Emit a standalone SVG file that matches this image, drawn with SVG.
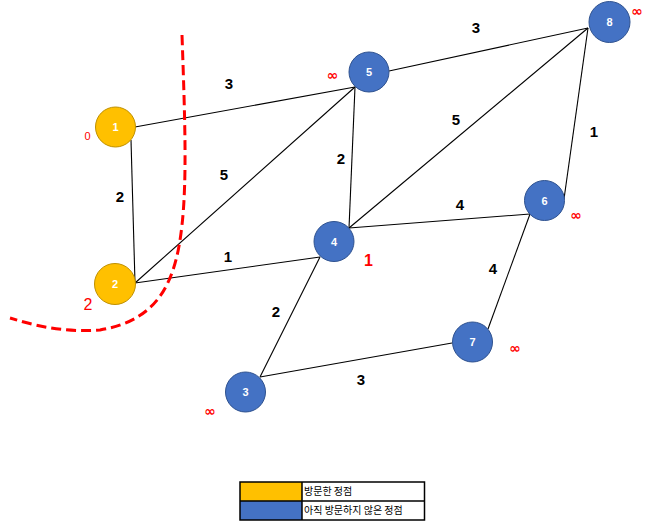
<svg xmlns="http://www.w3.org/2000/svg" width="654" height="531" viewBox="0 0 654 531">
<style>
.edge{stroke:#000;stroke-width:1.1;fill:none}
.v{fill:#FFC000;stroke:#BF9000;stroke-width:1}
.u{fill:#4472C4;stroke:#2F528F;stroke-width:1}
.nl{font-family:"Liberation Sans",Arial,sans-serif;font-weight:bold;font-size:11px;fill:#fff;text-anchor:middle}
.el{font-family:"Liberation Sans",Arial,sans-serif;font-weight:bold;font-size:15px;fill:#000;text-anchor:middle}
.rd{font-family:"Liberation Sans",Arial,sans-serif;fill:#FF0000;text-anchor:middle}
.inf{font-family:"DejaVu Sans",sans-serif;font-weight:bold;font-size:14px;fill:#FF0000;text-anchor:middle}
.lg{font-family:"Noto Sans CJK KR",sans-serif;font-size:10px;fill:#000}
</style>
<rect width="654" height="531" fill="#fff"/>
<g id="connectors">
<line class="edge" x1="135" y1="127" x2="355" y2="87"/>
<line class="edge" x1="131" y1="140" x2="135" y2="283"/>
<line class="edge" x1="135" y1="283" x2="355" y2="87"/>
<line class="edge" x1="135" y1="283" x2="320" y2="257"/>
<line class="edge" x1="349" y1="228" x2="355" y2="87"/>
<line class="edge" x1="349" y1="228" x2="588" y2="28"/>
<line class="edge" x1="349" y1="228" x2="530" y2="214"/>
<line class="edge" x1="389" y1="71" x2="588" y2="28"/>
<line class="edge" x1="564" y1="199" x2="588" y2="28"/>
<line class="edge" x1="320" y1="257" x2="260" y2="377"/>
<line class="edge" x1="260" y1="377" x2="452" y2="343"/>
<line class="edge" x1="488" y1="329" x2="530" y2="214"/>
</g>
<g id="edge-labels">
<text class="el" x="229" y="88.5">3</text>
<text class="el" x="120" y="201.5">2</text>
<text class="el" x="224" y="179.5">5</text>
<text class="el" x="228" y="261.5">1</text>
<text class="el" x="341" y="163.5">2</text>
<text class="el" x="456" y="124.5">5</text>
<text class="el" x="476" y="32.5">3</text>
<text class="el" x="594" y="136.5">1</text>
<text class="el" x="460" y="209.5">4</text>
<text class="el" x="493" y="273.5">4</text>
<text class="el" x="276" y="316.5">2</text>
<text class="el" x="361" y="384.5">3</text>
</g>
<path id="cut" d="M182,35 C185,120 187,180 182,225 C176,280 160,320 100,330 C60,333 30,324 10,318" fill="none" stroke="#FF0000" stroke-width="3" stroke-dasharray="10,5"/>
<g id="node1"><circle class="v" cx="115.5" cy="127" r="20"/><text class="nl" x="115.5" y="131">1</text></g>
<g id="node2"><circle class="v" cx="115" cy="284" r="20.5"/><text class="nl" x="115" y="288">2</text></g>
<g id="node3"><circle class="u" cx="245.5" cy="392" r="20"/><text class="nl" x="245.5" y="396">3</text></g>
<g id="node4"><circle class="u" cx="334" cy="241.5" r="20"/><text class="nl" x="334" y="245.5">4</text></g>
<g id="node5"><circle class="u" cx="369" cy="72" r="20"/><text class="nl" x="369" y="76">5</text></g>
<g id="node6"><circle class="u" cx="544.5" cy="200.5" r="20"/><text class="nl" x="544.5" y="204.5">6</text></g>
<g id="node7"><circle class="u" cx="472.5" cy="342" r="20"/><text class="nl" x="472.5" y="346">7</text></g>
<g id="node8"><circle class="u" cx="609.5" cy="22" r="20.5"/><text class="nl" x="609.5" y="26">8</text></g>
<g id="distances">
<text class="rd" x="87.5" y="139.5" font-size="11">0</text>
<text class="rd" x="88" y="310" font-size="16">2</text>
<text class="rd" x="368.5" y="266" font-size="16" font-weight="bold">1</text>
<text class="inf" x="332.5" y="80">∞</text>
<text class="inf" x="637" y="15.5">∞</text>
<text class="inf" x="576" y="219.5">∞</text>
<text class="inf" x="515" y="352.5">∞</text>
<text class="inf" x="210" y="416">∞</text>
</g>
<g id="legend">
<rect x="240" y="482" width="62" height="19" fill="#FFC000"/>
<rect x="240" y="501" width="62" height="19" fill="#4472C4"/>
<rect x="240" y="482" width="184.5" height="38" fill="none" stroke="#000" stroke-width="1.5"/>
<line x1="240" y1="501" x2="424.5" y2="501" stroke="#000" stroke-width="1.5"/>
<line x1="302" y1="482" x2="302" y2="520" stroke="#000" stroke-width="1.5"/>
<text class="lg" x="304" y="495">방문한 정점</text>
<text class="lg" x="304" y="514">아직 방문하지 않은 정점</text>
</g>
</svg>
